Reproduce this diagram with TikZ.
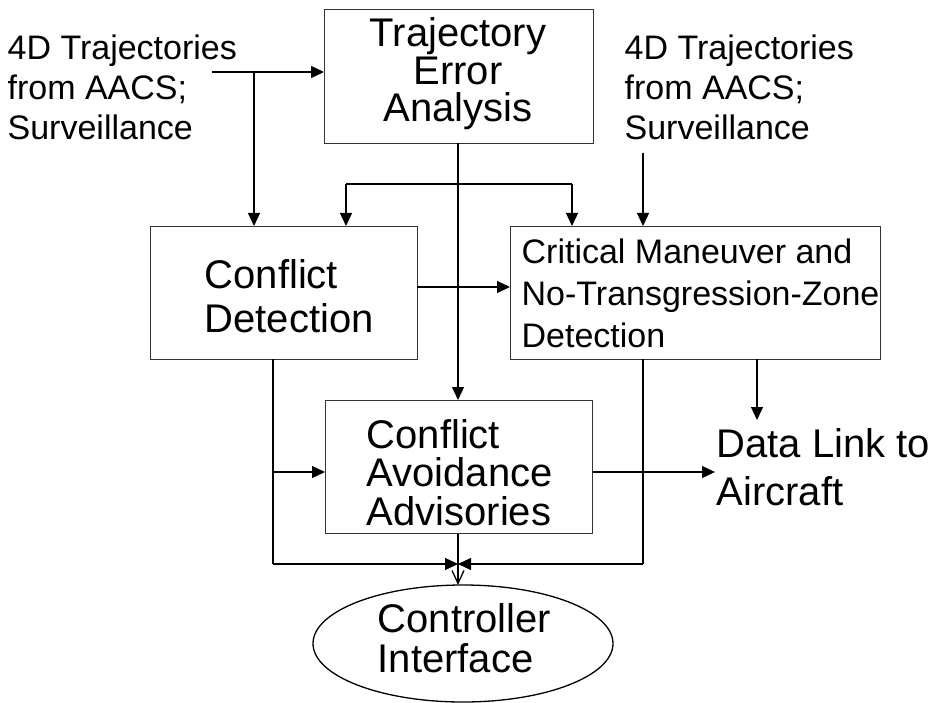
\documentclass[tikz,border=0pt]{standalone}
\usepackage{fontspec}
\setmainfont{Liberation Sans}
\usetikzlibrary{arrows.meta,shapes.geometric}
\begin{document}
\begin{tikzpicture}[x=1pt,y=-1pt,
  line width=1.3pt,
  boxnode/.style={draw=black!80,line width=1.3pt,rectangle,inner sep=0pt,anchor=north west},
  big/.style={font=\fontsize{40}{40}\selectfont,inner sep=0pt},
  small/.style={font=\fontsize{34}{40}\selectfont,inner sep=0pt},
  arr/.style={-{Triangle[length=13pt,width=12pt]}},
  vee/.style={-{Straight Barb[length=13pt,width=12pt,line width=1.3pt]}}]
\useasboundingbox (0,0) rectangle (941,703);

% boxes
\node[boxnode,minimum width=269pt,minimum height=134pt] (tea) at (324,9) {};
\node[boxnode,minimum width=267pt,minimum height=133pt] (cd) at (150,226) {};
\node[boxnode,minimum width=370pt,minimum height=133pt] (cm) at (510,226) {};
\node[boxnode,minimum width=267pt,minimum height=133pt] (caa) at (325,400) {};
\node[draw=black,line width=1.3pt,ellipse,minimum width=300pt,minimum height=117pt,inner sep=0pt] (ci) at (463,643.5) {};

% texts (anchor base = baseline of last line)
\node[small,align=left,anchor=base west] (inLtext) at (7,140) {4D Trajectories\\from AACS;\\Surveillance};
\node[small,align=left,anchor=base west] (inRtext) at (624,140) {4D Trajectories\\from AACS;\\Surveillance};
\node[big,align=center,anchor=base,font=\fontsize{40}{37.5}\selectfont] (teaT) at (458,122) {Trajectory\\Error\\Analysis};
\node[big,align=left,anchor=base west,font=\fontsize{40}{44}\selectfont] (cdT) at (204,332) {Conflict\\Detection};
\node[small,align=left,anchor=base west,font=\fontsize{34}{42}\selectfont] (cmT) at (521,347) {Critical Maneuver and\\No-Transgression-Zone\\Detection};
\node[big,align=left,anchor=base west,font=\fontsize{40}{38.5}\selectfont] (caaT) at (366,525) {Conflict\\Avoidance\\Advisories};
\node[big,align=left,anchor=base west,font=\fontsize{40}{48}\selectfont] (dl) at (716,505) {Data Link to\\Aircraft};
\node[big,align=left,anchor=base west] (ciT) at (377,672) {Controller\\Interface};

% coordinates
\coordinate (inL) at (212,72);
\coordinate (jL) at (254,72);
\coordinate (inR) at (643,153);
\coordinate (fbL) at (346,184);
\coordinate (fbR) at (572,184);
\coordinate (cdOut) at (417,287);
\coordinate (cdS) at (273,359);
\coordinate (cdMid) at (273,472);
\coordinate (cdBot) at (273,564);
\coordinate (cmS) at (643,359);
\coordinate (cmBot) at (643,564);
\coordinate (cmS2) at (757,359);
\coordinate (dlIn) at (757,420);
\coordinate (caaOut) at (715,472);
\coordinate (meet) at (458,564);
\coordinate (stem) at (458,143);

% connectors
\draw[arr] (inL) -- (tea.west |- inL);
\draw[arr] (jL) -- (jL |- cd.north);
\draw[arr] (stem) -- (stem |- caa.north);
\draw (fbL) -- (fbR);
\draw[arr] (fbL) -- (fbL |- cd.north);
\draw[arr] (fbR) -- (fbR |- cm.north);
\draw[arr] (inR) -- (inR |- cm.north);
\draw[arr] (cdOut) -- (cm.west |- cdOut);
\draw (cdS) -- (cdBot);
\draw[arr] (cdMid) -- (caa.west |- cdMid);
\draw[arr] (cdBot) -- (meet);
\draw (cmS) -- (cmBot);
\draw[arr] (cmBot) -- (meet);
\draw[arr] (cmS2) -- (dlIn);
\draw[arr] (caa.east |- cdMid) -- (caaOut);
\draw[vee] (caa.south -| stem) -- (458,585);
\end{tikzpicture}
\end{document}
